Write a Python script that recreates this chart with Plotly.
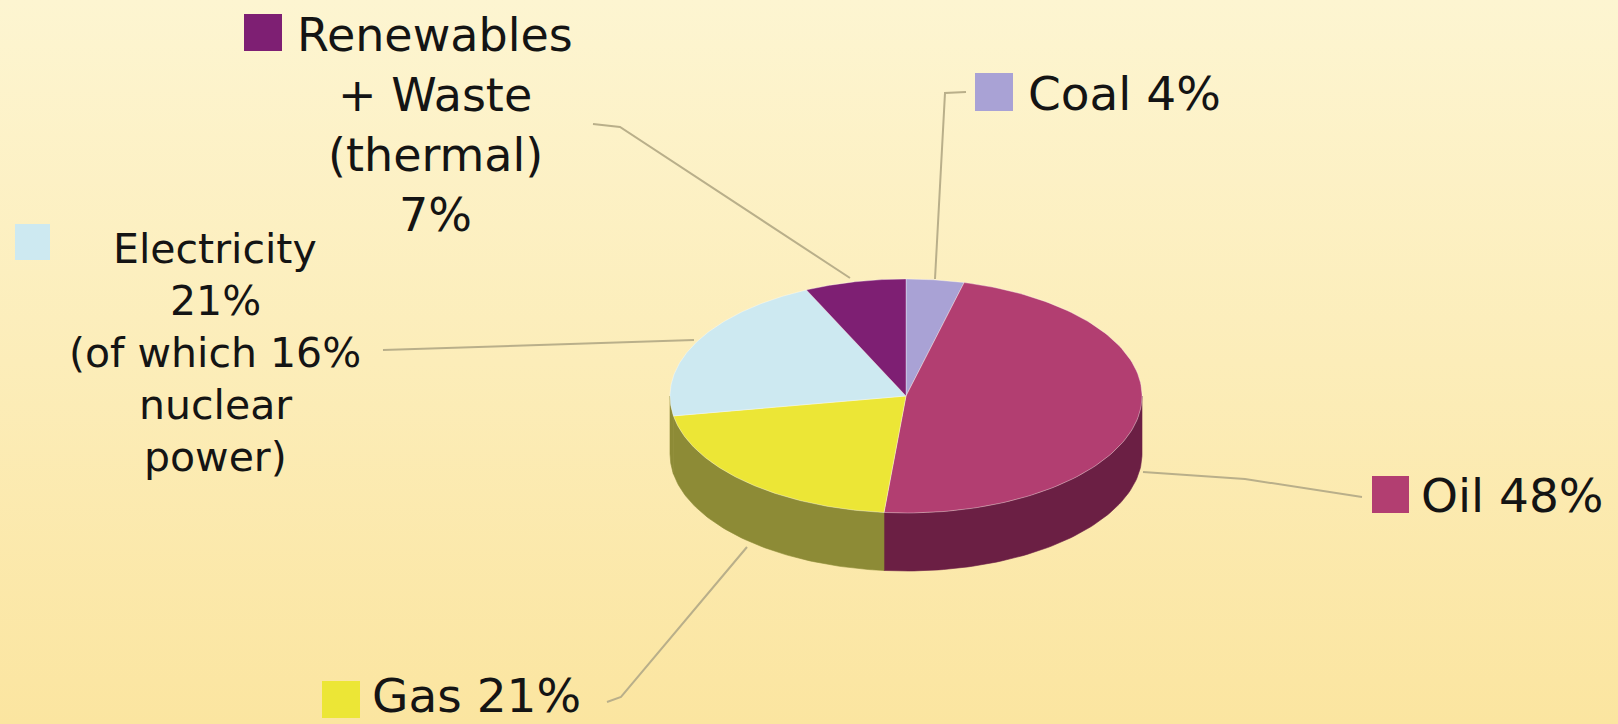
import numpy as np
import plotly.graph_objects as go

# ---------------- data ----------------
categories = ["Coal", "Oil", "Gas", "Electricity", "Renewables + Waste (thermal)"]
values = [4, 48, 21, 21, 7]
top_colors = ["#a9a2d5", "#b23e71", "#ece636", "#cde9f1", "#7e1f73"]
side_colors = ["#6f6a96", "#6b1f44", "#8d8b36", "#8d8b36", "#4e1248"]
label_lines = [
    ["Coal 4%"],
    ["Oil 48%"],
    ["Gas 21%"],
    ["Electricity", "21%", "(of which 16%", "nuclear", "power)"],
    ["Renewables", "+ Waste", "(thermal)", "7%"],
]

# ---------------- geometry (pixel space) ----------------
W, H = 1618, 724
cx, cy, rx, ry, depth = 906, 396, 236, 117, 58

def pt(theta_deg, dy=0.0):
    t = np.radians(theta_deg)
    return cx + rx * np.sin(t), cy - ry * np.cos(t) + dy

total = float(sum(values))
bounds = np.concatenate([[0], np.cumsum(values) / total * 360.0])

fig = go.Figure()

# background gradient
fig.add_trace(go.Scatter(
    x=[0, W, W, 0, 0], y=[0, 0, H, H, 0], mode="lines", fill="toself",
    line=dict(width=0), fillcolor="#fcedb8",
    fillgradient=dict(type="vertical", start=0, stop=H,
                      colorscale=[[0, "#fdf5d1"], [0.5, "#fcedb9"], [1, "#fbe5a0"]]),
    hoverinfo="skip", showlegend=False))

# side faces (front half only: 90..270 deg)
for i, name in enumerate(categories):
    a1, a2 = bounds[i], bounds[i + 1]
    s1, s2 = max(a1, 90.0), min(a2, 270.0)
    if s2 <= s1:
        continue
    th = np.linspace(s1, s2, 80)
    xt, yt = pt(th)
    xb, yb = pt(th[::-1], depth)
    xs = np.concatenate([xt, xb, xt[:1]])
    ys = np.concatenate([yt, yb, yt[:1]])
    fig.add_trace(go.Scatter(x=xs, y=ys, mode="lines", fill="toself",
                             fillcolor=side_colors[i], line=dict(width=0.6, color=side_colors[i]),
                             hoverinfo="skip", showlegend=False))

# top faces
for i, name in enumerate(categories):
    a1, a2 = bounds[i], bounds[i + 1]
    th = np.linspace(a1, a2, 120)
    xe, ye = pt(th)
    xs = np.concatenate([[cx], xe, [cx]])
    ys = np.concatenate([[cy], ye, [cy]])
    fig.add_trace(go.Scatter(x=xs, y=ys, mode="lines", fill="toself",
                             fillcolor=top_colors[i], line=dict(width=1, color="rgba(255,255,255,0.35)"),
                             name=name, hoverinfo="name", showlegend=False))

# ---------------- labels, legend keys, leader lines ----------------
FONT = "DejaVu Sans"
shapes = []
annotations = []

leader_paths = [
    "M 935 279 L 945 93 L 966 92",          # Coal
    "M 1143 472 L 1245 479 L 1362 497",      # Oil
    "M 747 547 L 621 697 L 607 702",         # Gas
    "M 694 340 L 383 350",                   # Electricity
    "M 850 278 L 620 127 L 593 124",         # Renewables
]
for p in leader_paths:
    shapes.append(dict(type="path", path=p, line=dict(color="#b9af8a", width=2), layer="above"))

keys = [
    (975, 73, 1013, 111),   # Coal
    (1372, 476, 1409, 513), # Oil
    (322, 681, 360, 718),   # Gas
    (15, 224, 50, 260),     # Electricity
    (244, 14, 282, 51),     # Renewables
]
for (x0, y0, x1, y1), c in zip(keys, top_colors):
    shapes.append(dict(type="rect", x0=x0, y0=y0, x1=x1, y1=y1,
                       fillcolor=c, line=dict(width=0), layer="above"))

def add_text(x, y, txt, size, anchor):
    annotations.append(dict(x=x, y=y, xref="x", yref="y", text=txt, showarrow=False,
                            xanchor=anchor, yanchor="middle",
                            font=dict(family=FONT, size=size, color="#141414")))

# single-line labels
add_text(1026, 93, label_lines[0][0], 47, "left")
add_text(1419, 495, label_lines[1][0], 47, "left")
add_text(370, 695, label_lines[2][0], 47, "left")

# electricity block
for k, line in enumerate(label_lines[3]):
    add_text(215, 249 + k * 52, line, 41, "center")
# renewables block
for k, line in enumerate(label_lines[4]):
    add_text(435, 35 + k * 60, line, 46, "center")

fig.update_layout(
    width=W, height=H,
    margin=dict(l=0, r=0, t=0, b=0),
    paper_bgcolor="#fcedb8", plot_bgcolor="#fcedb8",
    xaxis=dict(range=[0, W], visible=False, fixedrange=True),
    yaxis=dict(range=[H, 0], visible=False, fixedrange=True),
    shapes=shapes, annotations=annotations,
    showlegend=False,
)

fig.write_html("out.html", config={"displayModeBar": False},
               post_script="document.body.style.margin='0';document.body.style.overflow='hidden';")
